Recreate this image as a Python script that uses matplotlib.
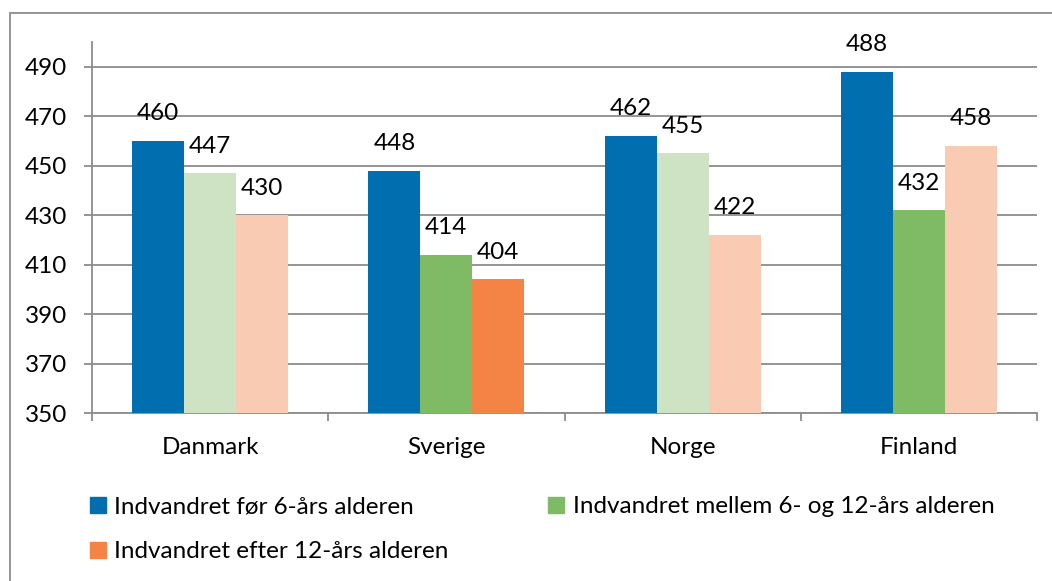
import numpy as np
import matplotlib.pyplot as plt
from matplotlib.patches import Rectangle, Patch

countries = ["Danmark", "Sverige", "Norge", "Finland"]
series = ["Indvandret før 6-års alderen",
          "Indvandret mellem 6- og 12-års alderen",
          "Indvandret efter 12-års alderen"]
before_6 = [460, 448, 462, 488]
between_6_12 = [447, 414, 455, 432]
after_12 = [430, 404, 422, 458]

blue = "#006EAF"
green = "#7FBA64"
orange = "#F38446"
light_green = "#CDE3C3"
light_orange = "#F9CBB3"
green_cols = [light_green, green, light_green, green]
orange_cols = [light_orange, orange, light_orange, light_orange]

plt.rcParams["font.family"] = ["Lato", "DejaVu Sans"]
fs = 17.5

fig = plt.figure(figsize=(10.52, 5.81), dpi=100)
ax = fig.add_axes([92 / 1052, 1 - 413 / 581, (1037 - 92) / 1052, (413 - 42) / 581])

# frame around the chart
fig.patches.append(Rectangle((10 / 1052, -0.05), 1.1, 1 - 13 / 581 + 0.05,
                             transform=fig.transFigure, fill=False,
                             edgecolor="#8c8c8c", linewidth=1.3))

x = np.arange(len(countries))
w = 0.22
groups = [(before_6, [blue] * 4), (between_6_12, green_cols), (after_12, orange_cols)]
for i, (vals, cols) in enumerate(groups):
    xs = x + (i - 1) * w
    ax.bar(xs, [v - 350 for v in vals], width=w, bottom=350, color=cols, zorder=3)
    for xi, v in zip(xs, vals):
        ax.annotate(str(v), (xi, v), xytext=(0, 19.5), textcoords="offset points",
                    ha="center", va="center", fontsize=fs, zorder=4)

ax.set_xlim(-0.5, 3.5)
ax.set_ylim(350, 500)
ax.set_yticks(range(350, 491, 20))
ax.grid(axis="y", color="#8c8c8c", linewidth=1.3, zorder=0)
ax.set_xticks(x)
ax.set_xticklabels(countries)
ax.set_xticks(np.arange(-0.5, 4, 1), minor=True)
ax.tick_params(axis="x", which="major", length=0, pad=17, labelsize=fs)
ax.tick_params(axis="x", which="minor", length=6, color="#8c8c8c", width=1.3)
ax.tick_params(axis="y", length=6, color="#8c8c8c", width=1.3, pad=12, labelsize=fs)
for s in ["top", "right"]:
    ax.spines[s].set_visible(False)
for s in ["left", "bottom"]:
    ax.spines[s].set_color("#8c8c8c")
    ax.spines[s].set_linewidth(1.3)

handles = [Patch(color=blue), Patch(color=orange), Patch(color=green)]
labels = [series[0], series[2], series[1]]
fig.legend(handles, labels, ncol=2, loc="upper left",
           bbox_to_anchor=(78 / 1052, 1 - 484 / 581), frameon=False,
           fontsize=fs, handlelength=0.65, handleheight=0.65, handletextpad=0.35,
           columnspacing=4.1, labelspacing=1.0, borderpad=0)

fig.savefig("out.png", dpi=100)
